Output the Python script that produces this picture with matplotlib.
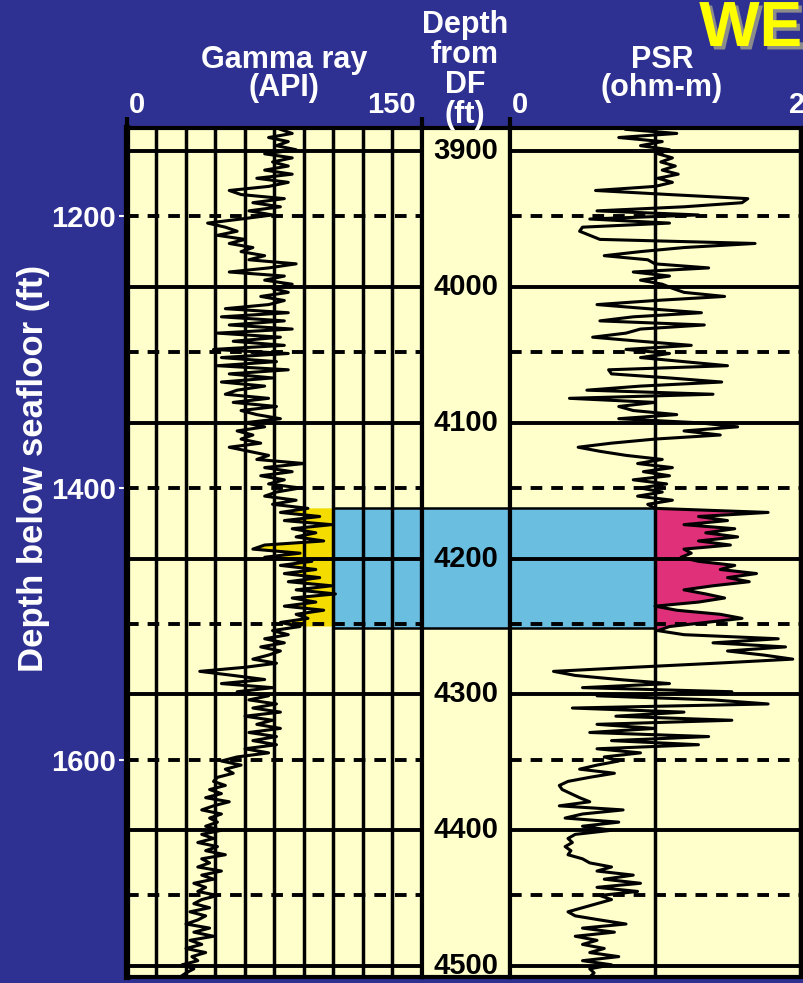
import numpy as np
import matplotlib
matplotlib.use('Agg')
import matplotlib.pyplot as plt
import matplotlib.transforms as mtransforms
import matplotlib.patheffects as pe

plt.rcParams['font.family'] = ['Liberation Sans', 'DejaVu Sans']
plt.rcParams['font.weight'] = 'bold'

# colours
NAVY = '#2E3192'
PAPER = '#FFFFCC'
BLUE = '#6ABEDF'
GOLD = '#F5DC00'
PINK = '#E0307A'

# log samples every 3 ft below drill floor (DF)
depth = np.arange(3884, 4509, 3)

# gamma ray (API)
gamma_ray = [
    78, 84, 72, 82, 76, 86, 70, 84, 74, 82,
    70, 84, 66, 82, 72, 52, 58, 80, 64, 78,
    62, 74, 58, 41, 50, 56, 46, 60, 52, 64,
    58, 70, 62, 86, 72, 52, 80, 70, 84, 74,
    82, 68, 80, 72, 50, 82, 48, 80, 52, 84,
    46, 78, 54, 80, 44, 82, 48, 76, 46, 82,
    52, 74, 48, 70, 56, 50, 72, 54, 76, 58,
    66, 78, 60, 70, 56, 64, 58, 68, 52, 62,
    72, 66, 90, 70, 84, 68, 80, 72, 88, 76,
    70, 86, 74, 92, 78, 98, 80, 104, 84, 96,
    86, 100, 70, 64, 88, 70, 94, 78, 96, 80,
    98, 82, 104, 86, 106, 84, 96, 80, 100, 86,
    92, 78, 88, 74, 82, 70, 80, 68, 78, 72,
    64, 76, 60, 37, 54, 70, 48, 74, 56, 72,
    62, 76, 64, 78, 60, 74, 66, 78, 62, 76,
    64, 76, 60, 72, 56, 48, 58, 50, 54, 46,
    44, 50, 42, 48, 40, 52, 44, 38, 48, 42,
    46, 40, 48, 38, 44, 36, 46, 40, 50, 38,
    42, 36, 48, 38, 44, 34, 40, 36, 46, 38,
    34, 42, 32, 40, 36, 30, 42, 34, 44, 32,
    38, 30, 40, 33, 36, 28, 34, 30, 27,
]

# phase shift resistivity (ohm-m)
psr = [
    0.80, 1.15, 0.75, 1.05, 0.90, 1.10, 1.02, 1.12, 1.04, 1.14,
    1.05, 1.16, 1.02, 1.12, 1.00, 0.59, 1.10, 1.64, 1.60, 1.20,
    0.60, 1.30, 0.55, 1.10, 0.50, 0.48, 0.55, 0.62, 1.69, 1.20,
    0.90, 0.65, 0.95, 1.00, 1.37, 0.85, 1.10, 0.90, 1.05, 1.12,
    1.20, 1.48, 1.00, 0.60, 0.95, 1.32, 0.85, 0.62, 1.34, 0.90,
    0.80, 0.57, 0.90, 1.25, 0.80, 1.10, 0.90, 1.20, 1.50, 0.68,
    0.70, 1.10, 1.46, 0.90, 0.53, 1.40, 0.41, 1.00, 0.75, 0.85,
    1.15, 0.75, 1.30, 1.57, 1.20, 1.45, 1.00, 0.70, 0.47, 0.62,
    0.80, 1.05, 0.88, 1.12, 0.92, 1.10, 0.85, 1.08, 0.90, 1.05,
    0.88, 1.12, 0.95, 1.00, 1.78, 1.30, 1.50, 1.20, 1.55, 1.35,
    1.57, 1.30, 1.52, 1.20, 1.25, 1.18, 1.30, 1.55, 1.45, 1.70,
    1.50, 1.65, 1.40, 1.20, 1.35, 1.48, 1.30, 1.00, 1.15, 1.45,
    1.60, 1.35, 1.10, 1.02, 1.20, 1.85, 1.40, 1.90, 1.50, 1.75,
    1.95, 1.42, 0.85, 0.30, 0.45, 0.75, 1.10, 0.50, 1.53, 0.60,
    1.40, 1.78, 0.43, 1.20, 0.73, 1.53, 0.60, 1.00, 0.55, 1.37,
    0.70, 1.30, 0.60, 0.90, 0.65, 0.75, 0.60, 0.48, 0.72, 0.55,
    0.40, 0.34, 0.36, 0.42, 0.48, 0.55, 0.34, 0.78, 0.50, 0.38,
    0.75, 0.50, 0.70, 0.45, 0.40, 0.43, 0.38, 0.42, 0.40, 0.50,
    0.55, 0.70, 0.60, 0.85, 0.65, 0.90, 0.60, 0.88, 0.62, 0.70,
    0.60, 0.50, 0.40, 0.45, 0.62, 0.80, 0.50, 0.72, 0.45, 0.60,
    0.50, 0.65, 0.55, 0.75, 0.50, 0.70, 0.55, 0.58, 0.55,
]

gamma_ray = np.array(gamma_ray, dtype=float)
psr = np.array(psr, dtype=float)

df_ticks = [3900, 4000, 4100, 4200, 4300, 4400, 4500]
seafloor_ticks = [1200, 1300, 1400, 1500, 1600, 1700]
seafloor_labels = [1200, 1400, 1600]
seafloor_offset = 2748          # DF depth of the seafloor, ft
top_depth, base_depth = 3883, 4508

pay_top, pay_base = 4163, 4251  # highlighted interval (DF)
gr_cut = 105                    # API
psr_cut = 1.0                   # ohm-m

W, H = 804, 983
fig = plt.figure(figsize=(W / 100, H / 100), dpi=100, facecolor=NAVY)


def box(x0, x1, ytop=128, ybot=977):
    return [x0 / W, 1 - ybot / H, (x1 - x0) / W, (ybot - ytop) / H]


def px(x, y):
    return x / W, 1 - y / H


ax_gr = fig.add_axes(box(127, 422))
ax_d = fig.add_axes(box(422, 510), sharey=ax_gr)
ax_r = fig.add_axes(box(510, 804), sharey=ax_gr)

ax_gr.set_xlim(0, 150)
ax_d.set_xlim(0, 1)
ax_r.set_xlim(0, (804 - 510) / 145)
ax_gr.set_ylim(base_depth, top_depth)

for ax in (ax_gr, ax_d, ax_r):
    ax.set_facecolor(PAPER)
    ax.tick_params(left=False, labelleft=False, bottom=False, labelbottom=False)
    for s in ax.spines.values():
        s.set_linewidth(3)
        s.set_color('k')
        s.set_zorder(6)
ax_gr.spines['left'].set_linewidth(4.5)

# grid lines (not in the depth column)
for ax in (ax_gr, ax_r):
    for d in df_ticks:
        ax.axhline(d, color='k', lw=2.8, zorder=3)
    for s in seafloor_ticks:
        ax.axhline(s + seafloor_offset, color='k', lw=2.8, dashes=(3.0, 2.3), zorder=3)
for v in np.arange(15, 150, 15):
    ax_gr.axvline(v, color='k', lw=2.5, zorder=3)
ax_r.axvline(1, color='k', lw=2.5, zorder=3)
ax_r.axvline(2, color='k', lw=2.5, zorder=3)

# highlighted interval
ax_gr.fill_betweenx([pay_top, pay_base], gr_cut, 150, color=BLUE, lw=0, zorder=1)
ax_d.axhspan(pay_top, pay_base, color=BLUE, lw=0, zorder=1)
ax_r.fill_betweenx([pay_top, pay_base], 0, psr_cut, color=BLUE, lw=0, zorder=1)
ax_gr.hlines([pay_top, pay_base], gr_cut, 150, color='k', lw=1.8, zorder=3)
ax_d.hlines([pay_top, pay_base], 0, 1, color='k', lw=1.8, zorder=3)
ax_r.hlines([pay_top, pay_base], 0, psr_cut, color='k', lw=1.8, zorder=3)

pay = (depth >= pay_top) & (depth <= pay_base)
ax_gr.fill_betweenx(depth, gamma_ray, gr_cut, where=pay & (gamma_ray < gr_cut),
                    interpolate=True, color=GOLD, lw=0, zorder=1)
ax_r.fill_betweenx(depth, psr_cut, psr, where=pay & (psr > psr_cut),
                   interpolate=True, color=PINK, lw=0, zorder=1)

# curves
ax_gr.plot(gamma_ray, depth, color='k', lw=2.2, zorder=4)
ax_r.plot(psr, depth, color='k', lw=2.2, zorder=4)

# depth labels
trans = mtransforms.blended_transform_factory(ax_d.transAxes, ax_d.transData)
for d in df_ticks:
    ax_d.text(0.5, d, str(d), transform=trans, ha='center', va='center',
              fontsize=21, fontweight='bold', color='k', zorder=5)

# top ticks on the track edges
for ax, ticks in ((ax_gr, [0, 150]), (ax_r, [0])):
    ax.xaxis.tick_top()
    ax.set_xticks(ticks)
    ax.tick_params(axis='x', top=True, labeltop=False, length=8, width=3, color='k')
ax_d.tick_params(top=False, labeltop=False)

# seafloor depth axis
ax_gr.set_yticks([s + seafloor_offset for s in seafloor_labels])
ax_gr.set_yticklabels([str(s) for s in seafloor_labels])
ax_gr.tick_params(axis='y', left=True, labelleft=True, colors='white',
                  labelcolor='white', length=6, width=1.5, labelsize=21, pad=2)
for lab in ax_gr.get_yticklabels():
    lab.set_fontweight('bold')
fig.text(*px(34, 468), 'Depth below seafloor (ft)', color='white', fontsize=25,
         fontweight='bold', rotation=90, ha='center', va='center')

# headers
hdr = dict(color='white', fontsize=22, fontweight='bold', ha='center', va='center')
fig.text(*px(284, 74), 'Gamma ray\n(API)', linespacing=0.95, **hdr)
fig.text(*px(465, 70), 'Depth\nfrom\nDF\n(ft)', linespacing=1.0, **hdr)
fig.text(*px(662, 74), 'PSR\n(ohm-m)', linespacing=0.95, **hdr)
fig.text(*px(129, 105), '0', color='white', fontsize=21, ha='left', va='center')
fig.text(*px(416, 105), '150', color='white', fontsize=21, ha='right', va='center')
fig.text(*px(512, 105), '0', color='white', fontsize=21, ha='left', va='center')
fig.text(*px(789, 105), '2', color='white', fontsize=21, ha='left', va='center')

# partly visible slide title
fig.text(*px(802, 46), 'WE', color='#FFFF00', fontsize=46, fontweight='bold',
         ha='right', va='baseline',
         path_effects=[pe.SimplePatchShadow(offset=(2.5, -2.5), shadow_rgbFace='#8C8C8C', alpha=1),
                       pe.Normal()])

fig.savefig('out.png', dpi=100, facecolor=NAVY)
